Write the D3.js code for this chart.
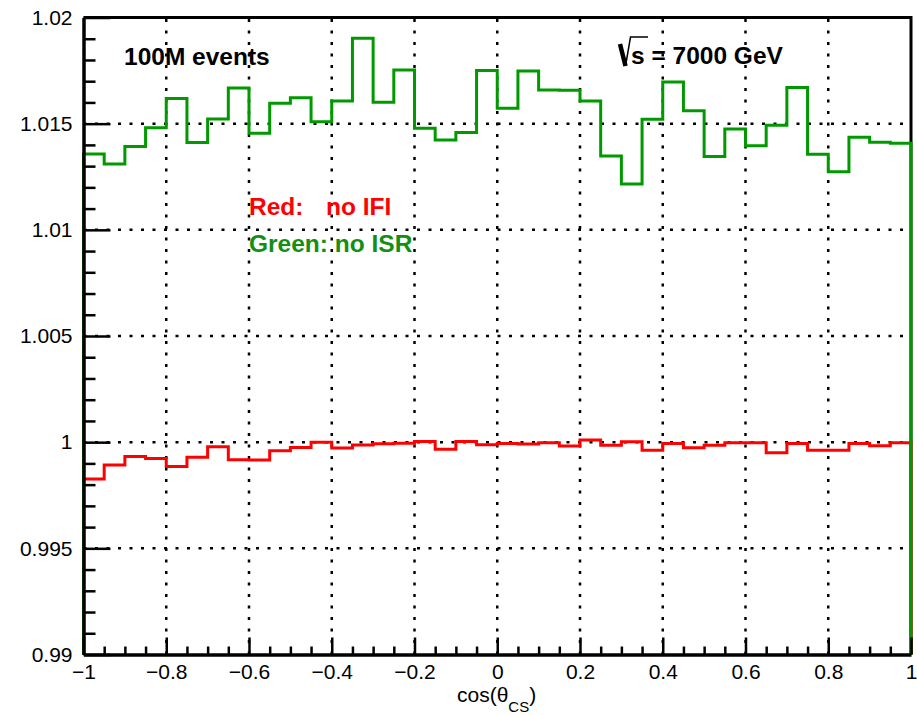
<!DOCTYPE html>
<html>
<head>
<meta charset="utf-8">
<script src="https://cdn.jsdelivr.net/npm/d3@7"></script>
<style>
  body { margin: 0; background: #fff; }
  svg { display: block; font-family: "Liberation Sans", Arial, sans-serif; }
</style>
</head>
<body>
<svg id="chart"></svg>
<script>
// bin edges of cos(theta_CS), 40 bins
const binEdges = [-1, -0.95, -0.9, -0.85, -0.8, -0.75, -0.7, -0.65, -0.6, -0.55,
  -0.5, -0.45, -0.4, -0.35, -0.3, -0.25, -0.2, -0.15, -0.1, -0.05,
  0, 0.05, 0.1, 0.15, 0.2, 0.25, 0.3, 0.35, 0.4, 0.45,
  0.5, 0.55, 0.6, 0.65, 0.7, 0.75, 0.8, 0.85, 0.9, 0.95, 1];

// ratio, no ISR (green)
const noISR = [1.01357, 1.01310, 1.01392, 1.01481, 1.01618, 1.01411, 1.01522, 1.01668, 1.01455, 1.01596,
  1.01622, 1.01509, 1.01607, 1.01902, 1.01601, 1.01753, 1.01478, 1.01423, 1.01458, 1.01750,
  1.01573, 1.01748, 1.01659, 1.01657, 1.01607, 1.01348, 1.01216, 1.01521, 1.01696, 1.01561,
  1.01345, 1.01475, 1.01396, 1.01492, 1.01670, 1.01356, 1.01274, 1.01436, 1.01412, 1.01408];

// ratio, no IFI (red)
const noIFI = [0.99826, 0.99893, 0.99932, 0.99923, 0.99885, 0.99929, 0.99979, 0.99917, 0.99916, 0.99959,
  0.99975, 1.00000, 0.99972, 0.99987, 0.99992, 0.99995, 1.00003, 0.99967, 1.00003, 0.99988,
  0.99994, 0.99991, 0.99997, 0.99982, 1.00010, 0.99986, 1.00002, 0.99962, 0.99994, 0.99974,
  0.99986, 0.99997, 0.99997, 0.99950, 0.99994, 0.99962, 0.99962, 0.99994, 0.99983, 0.99997];

const xMajor = [-1, -0.8, -0.6, -0.4, -0.2, 0, 0.2, 0.4, 0.6, 0.8, 1];
const xMajorLabels = ['\u22121', '\u22120.8', '\u22120.6', '\u22120.4', '\u22120.2', '0', '0.2', '0.4', '0.6', '0.8', '1'];
const yMajor = [0.99, 0.995, 1, 1.005, 1.01, 1.015, 1.02];
const yMajorLabels = ['0.99', '0.995', '1', '1.005', '1.01', '1.015', '1.02'];
const yMinor = [0.991, 0.992, 0.993, 0.994, 0.996, 0.997, 0.998, 0.999, 1.001, 1.002, 1.003, 1.004,
  1.006, 1.007, 1.008, 1.009, 1.011, 1.012, 1.013, 1.014, 1.016, 1.017, 1.018, 1.019];

const width = 917, height = 715;
const margin = { left: 83.5, right: 911, top: 17.5, bottom: 654.5 };

const svg = d3.select('#chart')
  .attr('width', width)
  .attr('height', height);

svg.append('rect').attr('width', width).attr('height', height).attr('fill', '#fff');

const x = d3.scaleLinear().domain([-1, 1]).range([margin.left, margin.right]);
const y = d3.scaleLinear().domain([0.99, 1.02]).range([margin.bottom, margin.top]);

// grid
const grid = svg.append('g')
  .attr('stroke', '#000')
  .attr('stroke-width', 2.5)
  .attr('stroke-dasharray', '3,8.5');
grid.selectAll('.gx')
  .data(xMajor.slice(1, -1))
  .enter().append('line')
  .attr('x1', d => x(d)).attr('x2', d => x(d))
  .attr('y1', margin.bottom).attr('y2', margin.top);
grid.selectAll('.gy')
  .data(yMajor.slice(1, -1))
  .enter().append('line')
  .attr('x1', margin.left).attr('x2', margin.right)
  .attr('y1', d => y(d)).attr('y2', d => y(d));

// frame (top and right)
svg.append('path')
  .attr('d', `M${margin.left},${margin.top}H${margin.right}V${margin.bottom}`)
  .attr('fill', 'none')
  .attr('stroke', '#000')
  .attr('stroke-width', 3);

// histogram outline as steps
function histPoints(vals) {
  const pts = [[binEdges[0], 0.99]];
  vals.forEach((v, i) => {
    pts.push([binEdges[i], v]);
    pts.push([binEdges[i + 1], v]);
  });
  pts.push([binEdges[binEdges.length - 1], 0.99]);
  return pts;
}

const line = d3.line().x(d => x(d[0])).y(d => y(d[1]));

svg.append('path')
  .attr('d', line(histPoints(noIFI)))
  .attr('fill', 'none')
  .attr('stroke', '#ff0000')
  .attr('stroke-width', 3);

svg.append('path')
  .attr('d', line(histPoints(noISR)))
  .attr('fill', 'none')
  .attr('stroke', '#009a00')
  .attr('stroke-width', 3);

// axes
const yAxis = svg.append('g')
  .attr('transform', `translate(${margin.left},0)`)
  .call(d3.axisLeft(y).tickValues(yMajor)
    .tickFormat((d, i) => yMajorLabels[i])
    .tickSizeInner(-27).tickSizeOuter(0).tickPadding(11));
svg.append('g')
  .attr('transform', `translate(${margin.left},0)`)
  .call(d3.axisLeft(y).tickValues(yMinor).tickFormat('')
    .tickSizeInner(-12).tickSizeOuter(0))
  .call(g => g.select('.domain').remove())
  .selectAll('line').attr('stroke-width', 2.5);

const xMinor = binEdges.filter(d => !xMajor.some(m => Math.abs(m - d) < 1e-9));
const xAxis = svg.append('g')
  .attr('transform', `translate(0,${margin.bottom})`)
  .call(d3.axisBottom(x).tickValues(xMajor)
    .tickFormat((d, i) => xMajorLabels[i])
    .tickSizeInner(-17).tickSizeOuter(0).tickPadding(10));
svg.append('g')
  .attr('transform', `translate(0,${margin.bottom})`)
  .call(d3.axisBottom(x).tickValues(xMinor).tickFormat('')
    .tickSizeInner(-8).tickSizeOuter(0))
  .call(g => g.select('.domain').remove())
  .selectAll('line').attr('stroke-width', 2.5);

[yAxis, xAxis].forEach(g => {
  g.select('.domain').attr('stroke-width', 3.5);
  g.selectAll('.tick line').attr('stroke-width', 2.5);
  g.selectAll('.tick text')
    .attr('font-size', 21)
    .attr('font-family', '"Liberation Sans", Arial, sans-serif')
    .attr('fill', '#000');
});

// axis title
const title = svg.append('text')
  .attr('x', 457).attr('y', 702)
  .attr('font-size', 21);
title.append('tspan').text('cos(\u03b8');
title.append('tspan').attr('font-size', 15).attr('dy', 10).text('CS');
title.append('tspan').attr('dy', -10).text(')');

// annotations
svg.append('text')
  .attr('x', 124).attr('y', 65)
  .attr('font-size', 24.5).attr('font-weight', 'bold')
  .text('100M events');

// radical sign drawn as strokes
svg.append('path')
  .attr('d', 'M620,44L625.5,66')
  .attr('stroke', '#000').attr('stroke-width', 4.5).attr('fill', 'none');
svg.append('path')
  .attr('d', 'M625.5,66L630.5,37H648')
  .attr('stroke', '#000').attr('stroke-width', 1.5).attr('fill', 'none');
svg.append('text')
  .attr('x', 631).attr('y', 64)
  .attr('font-size', 24.5).attr('font-weight', 'bold')
  .text('s = 7000 GeV');

svg.append('text')
  .attr('x', 249).attr('y', 215)
  .attr('font-size', 24.5).attr('font-weight', 'bold')
  .attr('fill', '#ff0000')
  .text('Red:');
svg.append('text')
  .attr('x', 326).attr('y', 215)
  .attr('font-size', 24.5).attr('font-weight', 'bold')
  .attr('fill', '#ff0000')
  .text('no IFI');
svg.append('text')
  .attr('x', 249).attr('y', 252)
  .attr('font-size', 24.5).attr('font-weight', 'bold')
  .attr('fill', '#138f13')
  .text('Green: no ISR');
</script>
</body>
</html>
